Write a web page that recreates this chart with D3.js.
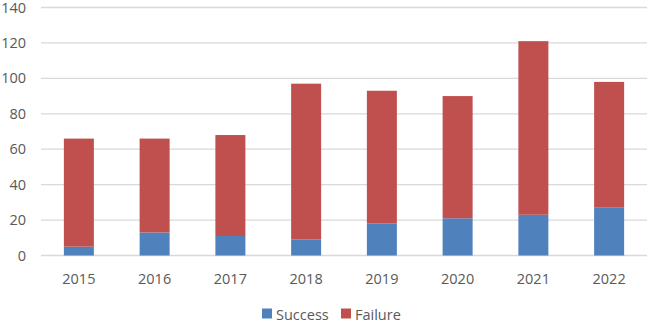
<!DOCTYPE html>
<html>
<head>
<meta charset="utf-8">
<script src="https://cdn.jsdelivr.net/npm/d3@7"></script>
<style>
  body { margin: 0; background: #fff; }
  text { font-family: "Open Sans", sans-serif; fill: #595959; }
</style>
</head>
<body>
<script>
let years = ["2015", "2016", "2017", "2018", "2019", "2020", "2021", "2022"];
let success = [5, 13, 11, 9, 18, 21, 23, 27];
let failure = [61, 53, 57, 88, 75, 69, 98, 71];
let seriesNames = ["Success", "Failure"];
let colors = ["#4F81BD", "#C0504D"];
let yTicks = [0, 20, 40, 60, 80, 100, 120, 140];

let w = 649;
let h = 322;

let rows = years.map((y, i) => {
  return { year: y, Success: success[i], Failure: failure[i] };
});

let stack = d3.stack().keys(seriesNames)(rows);

let xScale = d3.scaleBand()
  .domain(years)
  .range([41, 647])
  .paddingInner(0.604)
  .paddingOuter(0.302);

let yScale = d3.scaleLinear()
  .domain([0, 140])
  .range([255.5, 7.5]);

let svg = d3.select("body")
  .append("svg")
  .attr("width", w)
  .attr("height", h);

// gridlines
svg.append("g")
  .selectAll("line")
  .data(yTicks)
  .enter()
  .append("line")
  .attr("x1", 41)
  .attr("x2", 647)
  .attr("y1", (d) => yScale(d))
  .attr("y2", (d) => yScale(d))
  .attr("stroke", "#D9D9D9")
  .attr("stroke-width", 1.3);

// bars
svg.append("g")
  .selectAll("g")
  .data(stack)
  .enter()
  .append("g")
  .attr("fill", (d, i) => colors[i])
  .selectAll("rect")
  .data((d) => d)
  .enter()
  .append("rect")
  .attr("x", (d) => xScale(d.data.year))
  .attr("width", xScale.bandwidth())
  .attr("y", (d) => yScale(d[1]))
  .attr("height", (d) => yScale(d[0]) - yScale(d[1]));

// y labels
svg.append("g")
  .selectAll("text")
  .data(yTicks)
  .enter()
  .append("text")
  .attr("x", 26)
  .attr("y", (d) => yScale(d))
  .attr("dy", "0.35em")
  .attr("text-anchor", "end")
  .attr("font-size", "14.5px")
  .text((d) => d);

// x labels
svg.append("g")
  .selectAll("text")
  .data(years)
  .enter()
  .append("text")
  .attr("x", (d) => xScale(d) + xScale.bandwidth() / 2)
  .attr("y", 284)
  .attr("text-anchor", "middle")
  .attr("font-size", "14.5px")
  .text((d) => d);

// legend
let legendX = [262, 341];
let legend = svg.append("g")
  .selectAll("g")
  .data(seriesNames)
  .enter()
  .append("g")
  .attr("transform", (d, i) => "translate(" + legendX[i] + ",0)");

legend.append("rect")
  .attr("y", 308.5)
  .attr("width", 10)
  .attr("height", 10)
  .attr("fill", (d, i) => colors[i]);

legend.append("text")
  .attr("x", 14)
  .attr("y", 319.5)
  .attr("font-size", "14.5px")
  .text((d) => d);
</script>
</body>
</html>
